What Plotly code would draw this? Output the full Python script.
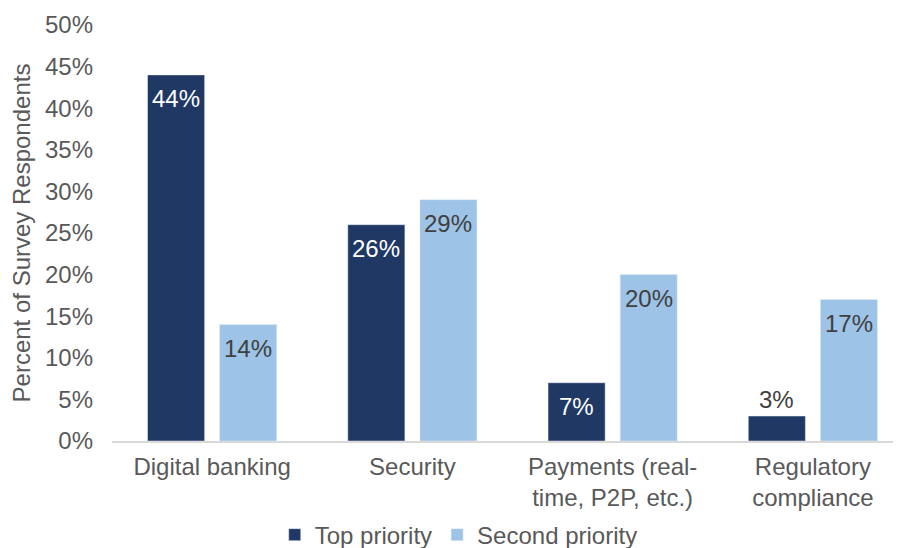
import plotly.graph_objects as go

categories = ["Digital banking", "Security", "Payments (real-<br>time, P2P, etc.)", "Regulatory<br>compliance"]
top_priority = [0.44, 0.26, 0.07, 0.03]
second_priority = [0.14, 0.29, 0.20, 0.17]
series_names = ["Top priority", "Second priority"]
y_ticks = [0, 0.05, 0.10, 0.15, 0.20, 0.25, 0.30, 0.35, 0.40, 0.45, 0.50]

DARK = "#203864"
LIGHT = "#9DC3E6"
GRAY = "#595959"
FONT = "Liberation Sans, Arial, sans-serif"
FS = 24

fig = go.Figure()
fig.add_trace(go.Bar(x=categories, y=top_priority, name=series_names[0], marker_color=DARK))
fig.add_trace(go.Bar(x=categories, y=second_priority, name=series_names[1], marker_color=LIGHT))

# data labels
for vals, shift, col in [(top_priority, -36, "white"), (second_priority, 36, "#404040")]:
    for c, v in zip(categories, vals):
        if v < 0.05:
            fig.add_annotation(x=c, y=v, text=f"{round(v*100)}%", showarrow=False, xshift=shift,
                               yanchor="bottom", yshift=1, font=dict(family=FONT, size=FS, color="#404040"))
        else:
            fig.add_annotation(x=c, y=v, text=f"{round(v*100)}%", showarrow=False, xshift=shift,
                               yanchor="top", yshift=-8, font=dict(family=FONT, size=FS, color=col))

fig.update_layout(
    width=901, height=548,
    margin=dict(l=104, r=9, t=17, b=115, autoexpand=False),
    paper_bgcolor="white", plot_bgcolor="white",
    barmode="group", bargap=0.28, bargroupgap=0.208,
    font=dict(family=FONT, size=FS, color=GRAY),
    showlegend=True,
    legend=dict(orientation="h", x=0.44, xanchor="center", y=-0.172, yanchor="top",
                font=dict(family=FONT, size=FS, color=GRAY), itemwidth=30, traceorder="normal"),
    xaxis=dict(range=[-0.5, 3.435], showline=True, linecolor="#D9D9D9", linewidth=2, automargin=False,
               tickfont=dict(family=FONT, size=FS, color=GRAY), ticklabelstandoff=3),
    yaxis=dict(range=[0, 0.5], tickvals=y_ticks, tickformat=".0%", showgrid=False, zeroline=False,
               showline=False, automargin=False,
               tickfont=dict(family=FONT, size=FS, color=GRAY), ticklabelstandoff=18,
               title=dict(text="Percent of Survey Respondents", font=dict(family=FONT, size=FS, color=GRAY), standoff=7)),
)

fig.write_html("out.html")
